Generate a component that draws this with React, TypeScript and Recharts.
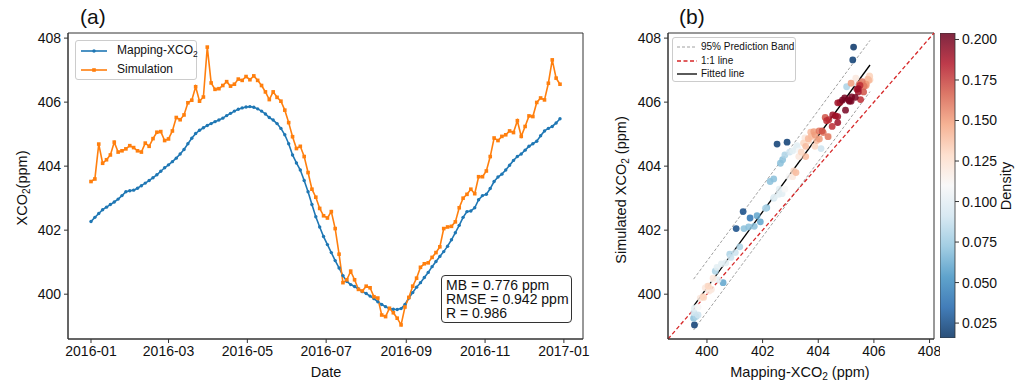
import React from 'react';
import {
  LineChart, Line, XAxis, YAxis, ReferenceArea, ScatterChart, Scatter, ReferenceLine, BarChart, Bar,
} from 'recharts';

// 3-day steps from 2016-01-01
const days = [
  0, 3, 6, 9, 12, 15, 18, 21, 24, 27, 30, 33, 36, 39, 42, 45, 48, 51, 54, 57,
  60, 63, 66, 69, 72, 75, 78, 81, 84, 87, 90, 93, 96, 99, 102, 105, 108, 111, 114, 117,
  120, 123, 126, 129, 132, 135, 138, 141, 144, 147, 150, 153, 156, 159, 162, 165, 168, 171, 174, 177,
  180, 183, 186, 189, 192, 195, 198, 201, 204, 207, 210, 213, 216, 219, 222, 225, 228, 231, 234, 237,
  240, 243, 246, 249, 252, 255, 258, 261, 264, 267, 270, 273, 276, 279, 282, 285, 288, 291, 294, 297,
  300, 303, 306, 309, 312, 315, 318, 321, 324, 327, 330, 333, 336, 339, 342, 345, 348, 351, 354, 357,
  360, 363,
];

const mappingXco2 = [
  402.27, 402.40, 402.52, 402.64, 402.72, 402.80, 402.88, 402.97, 403.08, 403.20,
  403.23, 403.25, 403.31, 403.39, 403.47, 403.55, 403.64, 403.73, 403.84, 403.95,
  404.04, 404.14, 404.25, 404.38, 404.52, 404.70, 404.87, 405.02, 405.12, 405.20,
  405.27, 405.33, 405.39, 405.44, 405.50, 405.58, 405.65, 405.72, 405.78, 405.82,
  405.85, 405.86, 405.84, 405.79, 405.72, 405.63, 405.52, 405.44, 405.33, 405.18,
  404.98, 404.70, 404.35, 404.10, 403.88, 403.55, 403.20, 402.80, 402.42, 402.10,
  401.80, 401.55, 401.30, 401.05, 400.82, 400.58, 400.40, 400.30, 400.24, 400.16,
  400.08, 400.02, 399.94, 399.86, 399.76, 399.68, 399.61, 399.55, 399.53, 399.52,
  399.55, 399.68, 399.88, 400.05, 400.22, 400.36, 400.52, 400.68, 400.86, 401.02,
  401.18, 401.33, 401.50, 401.70, 401.92, 402.15, 402.40, 402.58, 402.60, 402.70,
  402.95, 403.08, 403.12, 403.30, 403.52, 403.66, 403.75, 403.88, 404.03, 404.18,
  404.30, 404.38, 404.50, 404.62, 404.70, 404.78, 404.95, 405.10, 405.18, 405.24,
  405.35, 405.48,
];

const simulation = [
  403.52, 403.60, 404.69, 404.09, 404.20, 404.35, 404.75, 404.44, 404.48, 404.54,
  404.64, 404.58, 404.48, 404.44, 404.72, 404.62, 404.86, 405.06, 405.08, 404.80,
  404.85, 405.10, 405.52, 405.45, 405.60, 405.98, 406.06, 406.48, 406.03, 406.16,
  407.72, 406.60, 406.40, 406.42, 406.52, 406.64, 406.50, 406.56, 406.72, 406.68,
  406.80, 406.70, 406.82, 406.68, 406.52, 406.32, 406.08, 406.32, 406.15, 406.03,
  405.75, 405.36, 404.92, 404.55, 404.62, 404.30, 403.80, 403.28, 403.03, 402.68,
  402.45, 402.38, 402.58, 402.05, 401.25, 400.36, 400.45, 400.72, 400.45, 400.15,
  400.10, 400.25, 400.20, 399.92, 399.88, 399.35, 399.30, 399.56, 399.42, 399.25,
  399.04, 399.60, 399.90, 400.25, 400.50, 400.84, 400.95, 400.98, 401.15, 401.30,
  401.48, 402.05, 402.10, 402.12, 402.26, 402.70, 403.00, 403.12, 403.28, 403.14,
  403.67, 403.67, 403.85, 404.30, 404.88, 404.80, 404.93, 404.98, 405.10, 405.05,
  405.42, 404.93, 405.24, 405.57, 405.55, 405.99, 406.13, 406.07, 406.59, 407.32,
  406.75, 406.56,
];

const density = [
  0.07, 0.07, 0.02, 0.07, 0.07, 0.08, 0.02, 0.09, 0.10, 0.10,
  0.10, 0.10, 0.11, 0.13, 0.13, 0.14, 0.14, 0.14, 0.15, 0.14,
  0.15, 0.17, 0.17, 0.18, 0.19, 0.19, 0.20, 0.08, 0.20, 0.20,
  0.017, 0.11, 0.19, 0.19, 0.18, 0.16, 0.16, 0.15, 0.14, 0.14,
  0.13, 0.13, 0.13, 0.14, 0.15, 0.17, 0.18, 0.19, 0.20, 0.20,
  0.20, 0.19, 0.16, 0.09, 0.13, 0.14, 0.14, 0.11, 0.10, 0.08,
  0.06, 0.04, 0.025, 0.025, 0.08, 0.06, 0.10, 0.08, 0.11, 0.12,
  0.12, 0.12, 0.12, 0.13, 0.12, 0.09, 0.08, 0.10, 0.09, 0.07,
  0.02, 0.11, 0.13, 0.13, 0.12, 0.10, 0.10, 0.10, 0.09, 0.09,
  0.08, 0.07, 0.07, 0.07, 0.06, 0.07, 0.09, 0.10, 0.10, 0.10,
  0.11, 0.12, 0.13, 0.12, 0.12, 0.13, 0.14, 0.15, 0.16, 0.16,
  0.18, 0.12, 0.18, 0.19, 0.19, 0.19, 0.20, 0.20, 0.15, 0.02,
  0.12, 0.16,
];

const monthTicks = [0, 60, 121, 182, 244, 305, 366];
const monthLabels = ['2016-01', '2016-03', '2016-05', '2016-07', '2016-09', '2016-11', '2017-01'];
const ppmTicks = [400, 402, 404, 406, 408];
const densityTicks = [0.025, 0.05, 0.075, 0.1, 0.125, 0.15, 0.175, 0.2];

const fitLine = [{ x: 399.52, y: 399.63 }, { x: 405.86, y: 407.16 }];
const bandUpper = [{ x: 399.52, y: 400.47 }, { x: 405.86, y: 407.93 }];
const bandLower = [{ x: 399.52, y: 398.88 }, { x: 405.86, y: 406.33 }];
const statLines = ['MB = 0.776 ppm', 'RMSE = 0.942 ppm', 'R = 0.986'];

const DAY_DOMAIN: [number, number] = [-17.8, 380.8];
const PPM_DOMAIN: [number, number] = [398.6, 408.16];
const DENSITY_DOMAIN: [number, number] = [0.0158, 0.204];

const FONT = '"Liberation Sans", Arial, sans-serif';
const AXIS = '#333';
const BLUE = '#1f77b4';
const ORANGE = '#ff7f0e';

const rdbuR = ['#053061', '#2166ac', '#4393c3', '#92c5de', '#d1e5f0', '#f7f7f7', '#fddbc7', '#f4a582', '#d6604d', '#b2182b', '#67001f'];

function hexToRgb(h: string) {
  return [1, 3, 5].map((k) => parseInt(h.slice(k, k + 2), 16));
}

function densityColor(d: number) {
  let t = (d - DENSITY_DOMAIN[0]) / (DENSITY_DOMAIN[1] - DENSITY_DOMAIN[0]);
  t = Math.max(0, Math.min(1, t));
  const pos = t * (rdbuR.length - 1);
  const i = Math.min(Math.floor(pos), rdbuR.length - 2);
  const f = pos - i;
  const a = hexToRgb(rdbuR[i]);
  const b = hexToRgb(rdbuR[i + 1]);
  const c = a.map((v, k) => Math.round(v + (b[k] - v) * f));
  return `rgb(${c[0]},${c[1]},${c[2]})`;
}

const seriesRows = days.map((d, i) => ({ day: d, mapping: mappingXco2[i], simulation: simulation[i] }));
const scatterRows = mappingXco2
  .map((x, i) => ({ x, y: simulation[i], d: density[i] }))
  .sort((a, b) => a.d - b.d);

const tickStyle = { fontSize: 14, fill: '#111', fontFamily: FONT };

const BlueDot = (p: any) => <circle key={p.key} cx={p.cx} cy={p.cy} r={1.7} fill={BLUE} />;
const OrangeSquare = (p: any) => (
  <rect key={p.key} x={p.cx - 1.8} y={p.cy - 1.8} width={3.6} height={3.6} fill={ORANGE} />
);
const DensityDot = (p: any) => {
  const d = p.payload ? p.payload.d : p.d;
  return <circle cx={p.cx} cy={p.cy} r={3.4} fill={densityColor(d)} fillOpacity={0.85} />;
};

const abs = (left: number, top: number, extra: React.CSSProperties = {}): React.CSSProperties => ({
  position: 'absolute', left, top, fontFamily: FONT, color: '#111', whiteSpace: 'nowrap', ...extra,
});
const centered = (x: number, y: number, size: number, rotate = false): React.CSSProperties =>
  abs(x, y, { fontSize: size, transform: `translate(-50%, -50%)${rotate ? ' rotate(-90deg)' : ''}` });

const Sub = ({ children }: { children: React.ReactNode }) => (
  <span style={{ fontSize: '0.7em', verticalAlign: '-0.3em', lineHeight: 0 }}>{children}</span>
);

export default function App() {
  return (
    <div style={{ position: 'absolute', left: 0, top: 0, width: 1018, height: 386, background: '#fff' }}>
      {/* (a) time series */}
      <LineChart
        width={600}
        height={386}
        data={seriesRows}
        margin={{ top: 33, right: 17, bottom: 17, left: 8 }}
        style={{ position: 'absolute', left: 0, top: 0 }}
      >
        <XAxis
          type="number"
          dataKey="day"
          domain={DAY_DOMAIN}
          allowDataOverflow
          ticks={monthTicks}
          tickFormatter={(v: number) => monthLabels[monthTicks.indexOf(v)]}
          height={30}
          tickSize={4}
          tickMargin={3}
          tick={tickStyle}
          axisLine={{ stroke: AXIS }}
          tickLine={{ stroke: AXIS }}
        />
        <YAxis
          type="number"
          domain={PPM_DOMAIN}
          allowDataOverflow
          ticks={ppmTicks}
          width={60}
          tickSize={4}
          tickMargin={3}
          tick={tickStyle}
          axisLine={{ stroke: AXIS }}
          tickLine={{ stroke: AXIS }}
        />
        <ReferenceArea x1={DAY_DOMAIN[0]} x2={DAY_DOMAIN[1]} y1={PPM_DOMAIN[0]} y2={PPM_DOMAIN[1]} fill="none" stroke={AXIS} strokeWidth={1} />
        <Line type="linear" dataKey="mapping" stroke={BLUE} strokeWidth={1.6} dot={BlueDot} isAnimationActive={false} />
        <Line type="linear" dataKey="simulation" stroke={ORANGE} strokeWidth={1.6} dot={OrangeSquare} isAnimationActive={false} />
      </LineChart>

      {/* (b) scatter */}
      <ScatterChart
        width={340}
        height={386}
        margin={{ top: 33, right: 6, bottom: 17, left: 8 }}
        style={{ position: 'absolute', left: 600, top: 0 }}
      >
        <XAxis
          type="number"
          dataKey="x"
          domain={PPM_DOMAIN}
          allowDataOverflow
          ticks={ppmTicks}
          height={30}
          tickSize={4}
          tickMargin={3}
          tick={tickStyle}
          axisLine={{ stroke: AXIS }}
          tickLine={{ stroke: AXIS }}
        />
        <YAxis
          type="number"
          dataKey="y"
          domain={PPM_DOMAIN}
          allowDataOverflow
          ticks={ppmTicks}
          width={60}
          tickSize={4}
          tickMargin={3}
          tick={tickStyle}
          axisLine={{ stroke: AXIS }}
          tickLine={{ stroke: AXIS }}
        />
        <ReferenceArea x1={PPM_DOMAIN[0]} x2={PPM_DOMAIN[1]} y1={PPM_DOMAIN[0]} y2={PPM_DOMAIN[1]} fill="none" stroke={AXIS} strokeWidth={1} />
        <Scatter data={scatterRows} shape={DensityDot} isAnimationActive={false} />
        <ReferenceLine segment={bandUpper} stroke="#888" strokeWidth={0.8} strokeDasharray="3 2" ifOverflow="visible" />
        <ReferenceLine segment={bandLower} stroke="#888" strokeWidth={0.8} strokeDasharray="3 2" ifOverflow="visible" />
        <ReferenceLine
          segment={[{ x: PPM_DOMAIN[0], y: PPM_DOMAIN[0] }, { x: PPM_DOMAIN[1], y: PPM_DOMAIN[1] }]}
          stroke="#d62728"
          strokeWidth={1.3}
          strokeDasharray="4 2.5"
          ifOverflow="visible"
        />
        <ReferenceLine segment={fitLine} stroke="#000" strokeWidth={1.3} ifOverflow="visible" />
      </ScatterChart>

      {/* colour bar */}
      <BarChart
        width={78}
        height={386}
        data={[{ k: 'density', v: DENSITY_DOMAIN }]}
        margin={{ top: 33, right: 0, bottom: 48, left: 0 }}
        barCategoryGap={0}
        style={{ position: 'absolute', left: 940, top: 0 }}
      >
        <defs>
          <linearGradient id="cbarGrad" x1="0" y1="1" x2="0" y2="0">
            {rdbuR.map((c, i) => (
              <stop key={c} offset={`${(i / (rdbuR.length - 1)) * 100}%`} stopColor={c} stopOpacity={0.85} />
            ))}
          </linearGradient>
        </defs>
        <XAxis dataKey="k" hide />
        <YAxis
          orientation="right"
          type="number"
          domain={DENSITY_DOMAIN}
          allowDataOverflow
          ticks={densityTicks}
          tickFormatter={(v: number) => v.toFixed(3)}
          width={63}
          tickSize={4}
          tickMargin={3}
          tick={tickStyle}
          axisLine={false}
          tickLine={{ stroke: AXIS }}
        />
        <Bar dataKey="v" fill="url(#cbarGrad)" stroke={AXIS} strokeWidth={0.8} isAnimationActive={false} />
      </BarChart>

      {/* titles and axis labels */}
      <div style={abs(80, 5, { fontSize: 21 })}>(a)</div>
      <div style={abs(679, 5, { fontSize: 21 })}>(b)</div>
      <div style={centered(22, 188, 14.5, true)}>XCO<Sub>2</Sub>(ppm)</div>
      <div style={centered(326, 372, 14.5)}>Date</div>
      <div style={centered(621, 190, 14.5, true)}>Simulated XCO<Sub>2</Sub> (ppm)</div>
      <div style={centered(800, 372, 14.5)}>Mapping-XCO<Sub>2</Sub> (ppm)</div>
      <div style={centered(1006, 186, 14.5, true)}>Density</div>

      {/* legend (a) */}
      <div style={abs(75, 40, { width: 122, height: 40, border: '1px solid #ccc', borderRadius: 3, background: 'rgba(255,255,255,0.85)', boxSizing: 'border-box' })}>
        <svg width={30} height={40} style={{ position: 'absolute', left: 3, top: 0 }}>
          <line x1={2} y1={10} x2={28} y2={10} stroke={BLUE} strokeWidth={1.6} />
          <circle cx={15} cy={10} r={1.7} fill={BLUE} />
          <line x1={2} y1={29} x2={28} y2={29} stroke={ORANGE} strokeWidth={1.6} />
          <rect x={13.2} y={27.2} width={3.6} height={3.6} fill={ORANGE} />
        </svg>
        <div style={abs(41, 2, { fontSize: 12 })}>Mapping-XCO<Sub>2</Sub></div>
        <div style={abs(41, 21, { fontSize: 12 })}>Simulation</div>
      </div>

      {/* stats box */}
      <div style={abs(441, 275, { width: 131, height: 48, border: '1px solid #333', borderRadius: 4, background: '#fff', boxSizing: 'border-box', padding: '2px 0 0 4px', fontSize: 14, lineHeight: '14px' })}>
        {statLines.map((s) => (
          <div key={s}>{s}</div>
        ))}
      </div>

      {/* legend (b) */}
      <div style={abs(672, 37, { width: 124, height: 45, border: '1px solid #ccc', borderRadius: 3, background: 'rgba(255,255,255,0.85)', boxSizing: 'border-box' })}>
        <svg width={26} height={45} style={{ position: 'absolute', left: 2, top: 0 }}>
          <line x1={2} y1={9} x2={22} y2={9} stroke="#888" strokeWidth={0.8} strokeDasharray="3 2" />
          <line x1={2} y1={23} x2={22} y2={23} stroke="#d62728" strokeWidth={1.3} strokeDasharray="4 2.5" />
          <line x1={2} y1={36} x2={22} y2={36} stroke="#000" strokeWidth={1.3} />
        </svg>
        <div style={abs(28, 3, { fontSize: 10 })}>95% Prediction Band</div>
        <div style={abs(28, 17, { fontSize: 10 })}>1:1 line</div>
        <div style={abs(28, 30, { fontSize: 10 })}>Fitted line</div>
      </div>
    </div>
  );
}
